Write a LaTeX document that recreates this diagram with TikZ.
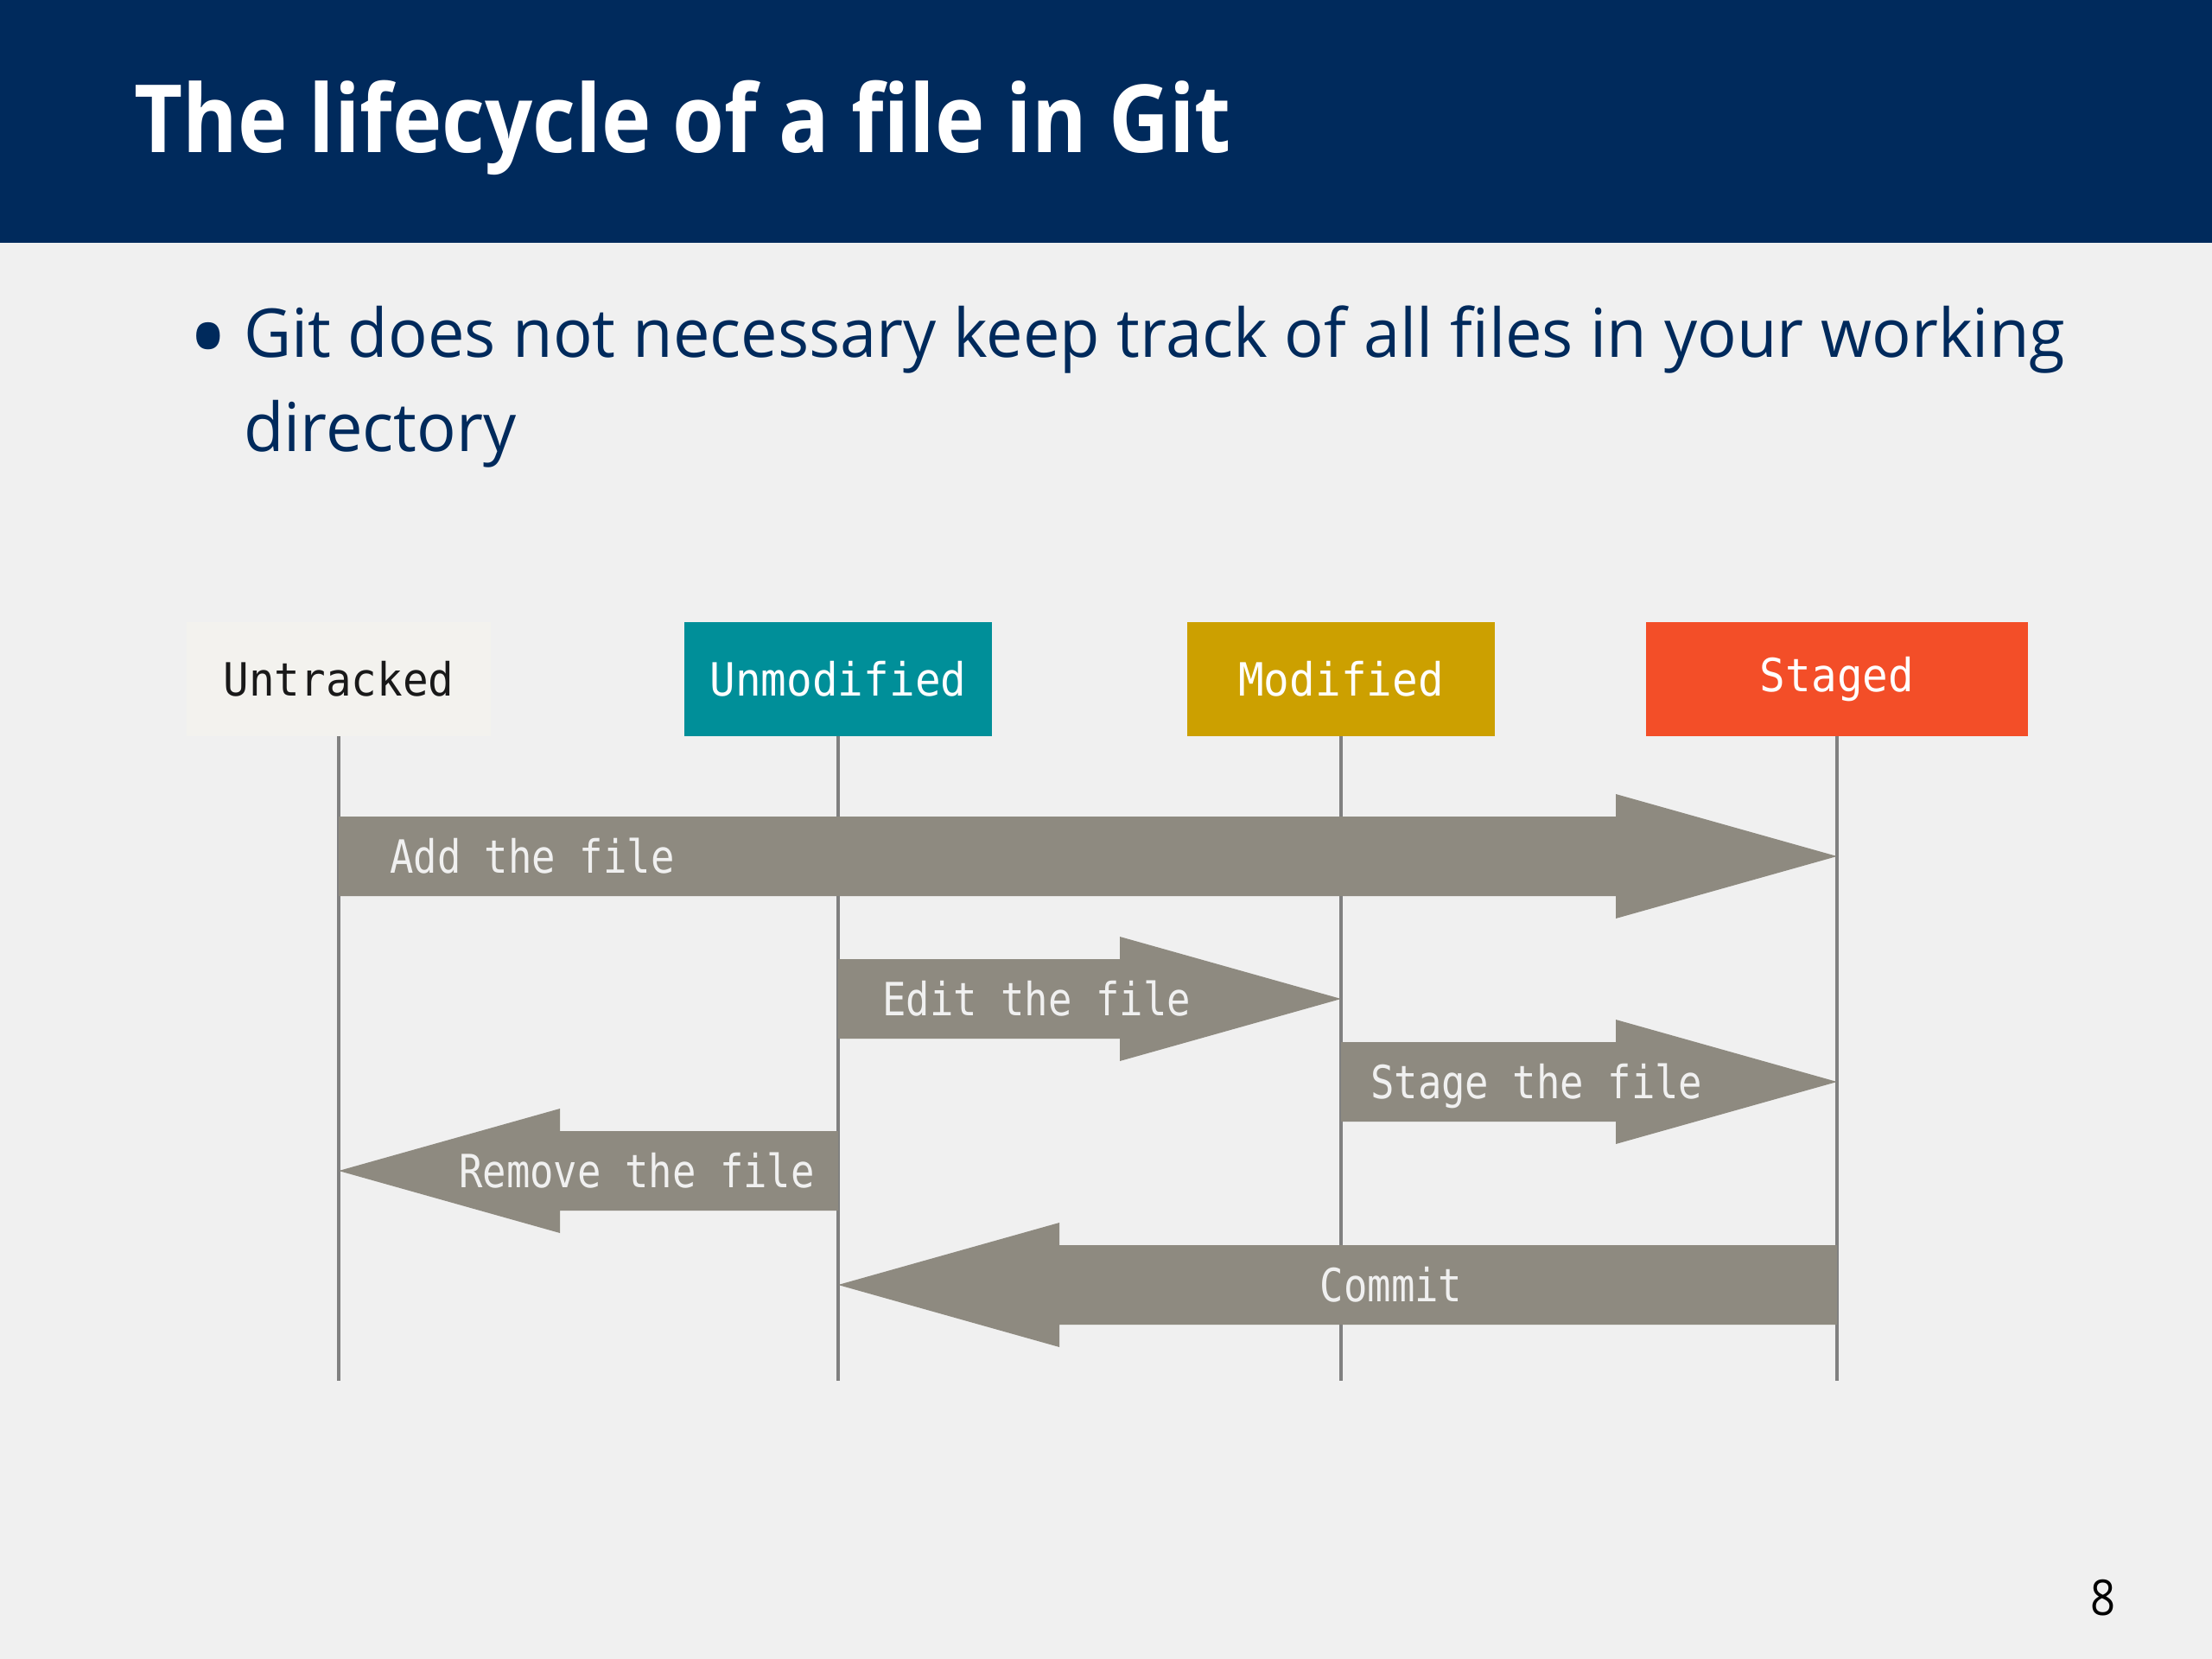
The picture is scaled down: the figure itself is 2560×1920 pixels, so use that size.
\documentclass[tikz,border=0pt]{standalone}
\usepackage{fontspec}
\setmainfont[FakeStretch=0.89]{Open Sans}
\newfontfamily\bodyfont[FakeStretch=0.972]{Open Sans}
\newfontfamily\gitmono[FakeStretch=0.86]{DejaVu Sans Mono}
\newfontfamily\statemono[FakeStretch=0.93]{DejaVu Sans Mono}
\usetikzlibrary{calc,positioning}

\definecolor{navy}{HTML}{002A5C}
\definecolor{slidebg}{HTML}{F0F0F0}
\definecolor{linegray}{HTML}{808080}
\definecolor{arrowgray}{HTML}{8E8A80}
\definecolor{arrowtext}{HTML}{F0F0F0}
\definecolor{untrackedfill}{HTML}{F3F2EE}
\definecolor{gitteal}{HTML}{008F99}
\definecolor{gitmustard}{HTML}{CCA000}
\definecolor{gitorange}{HTML}{F34E28}

% fat arrow: start, tip, head offset
\newcommand{\fatarrow}[3]{%
	\fill[arrowgray] ($(#1)+(0,-46)$) -- ($(#2)+(#3,-46)$) -- ($(#2)+(#3,-72)$) -- (#2)
		-- ($(#2)+(#3,72)$) -- ($(#2)+(#3,46)$) -- ($(#1)+(0,46)$) -- cycle;}

\begin{document}
\begin{tikzpicture}[x=1pt,y=-1pt,
	state/.style={minimum width=356pt,minimum height=132pt,inner sep=0pt,text=white,
		font=\statemono\fontsize{53}{60}\selectfont},
	lifeline/.style={draw=linegray,line width=4pt},
	steplabel/.style={anchor=base west,inner sep=0pt,text=arrowtext,
		font=\gitmono\fontsize{53}{60}\selectfont},
	bodytext/.style={anchor=base west,inner sep=0pt,text=navy,font=\bodyfont\fontsize{78}{106}\selectfont}]
	\useasboundingbox (0,0) rectangle (2560,1920);
	\fill[slidebg] (0,0) rectangle (2560,1920);
	\fill[navy] (0,0) rectangle (2560,281);

	\node[anchor=base west,inner sep=0pt,text=white,font=\bfseries\fontsize{109}{120}\selectfont]
		(title) at (155,176) {The lifecycle of a file in Git};
	\node[bodytext] (line1) at (282,413) {Git does not necessary keep track of all files in your working};
	\node[bodytext] (line2) at ($(line1.base west)+(0,109)$) {directory};
	\node[anchor=base,inner sep=0pt,text=navy,font=\bodyfont\fontsize{130}{106}\selectfont]
		(bullet) at (241,436) {•};

	\node[state,fill=untrackedfill,text=black!90,minimum width=352pt] (untracked) at (392,786) {Untracked};
	\node[state,fill=gitteal] (unmodified) at (970,786) {Unmodified};
	\node[state,fill=gitmustard] (modified) at (1552,786) {Modified};
	\node[state,fill=gitorange,minimum width=442pt] (staged) at (2126,786) {Staged};

	\coordinate (rowadd) at (0,991);
	\coordinate (rowedit) at (0,1156);
	\coordinate (rowstage) at (0,1252);
	\coordinate (rowremove) at (0,1355);
	\coordinate (rowcommit) at (0,1487);
	\coordinate (rowend) at (0,1598);

	\foreach \s in {untracked,unmodified,modified,staged}
		\draw[lifeline] (\s.south) -- (\s.south |- rowend);

	\coordinate (add0) at (untracked |- rowadd);
	\coordinate (add1) at (staged |- rowadd);
	\coordinate (edit0) at (unmodified |- rowedit);
	\coordinate (edit1) at (modified |- rowedit);
	\coordinate (stage0) at (modified |- rowstage);
	\coordinate (stage1) at (staged |- rowstage);
	\coordinate (remove0) at (unmodified |- rowremove);
	\coordinate (remove1) at (untracked |- rowremove);
	\coordinate (commit0) at (staged |- rowcommit);
	\coordinate (commit1) at (unmodified |- rowcommit);

	\fatarrow{add0}{add1}{-256}
	\fatarrow{edit0}{edit1}{-256}
	\fatarrow{stage0}{stage1}{-256}
	\fatarrow{remove0}{remove1}{256}
	\fatarrow{commit0}{commit1}{256}

	\node[steplabel] at ($(add0)+(59,19)$) {Add the file};
	\node[steplabel] at ($(edit0)+(51,19)$) {Edit the file};
	\node[steplabel] at ($(stage0)+(34,19)$) {Stage the file};
	\node[steplabel] at ($(remove1)+(139,19)$) {Remove the file};
	\node[steplabel,anchor=base] at ($(commit1)+(640,19)$) {Commit};

	\node[anchor=base,inner sep=0pt,font=\fontsize{57}{60}\selectfont] (page) at (2434,1869) {8};
\end{tikzpicture}
\end{document}
